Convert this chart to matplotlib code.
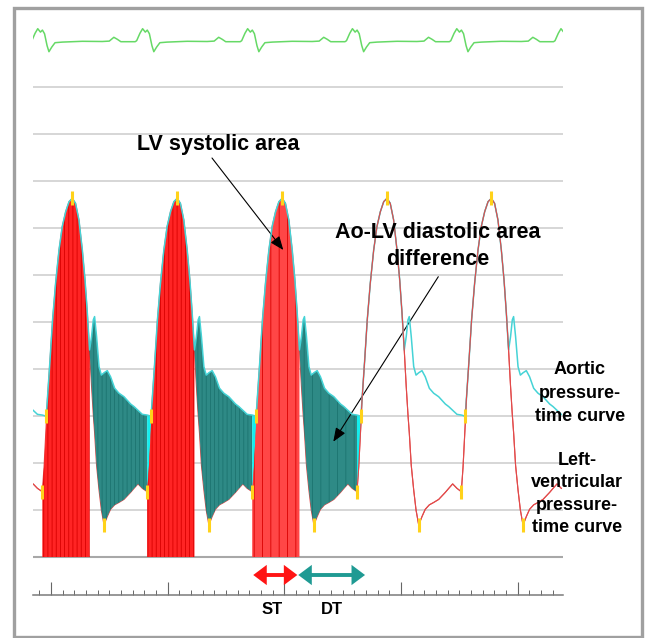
import numpy as np
import matplotlib
matplotlib.use('Agg')
import matplotlib.pyplot as plt
import matplotlib.transforms as mtransforms
from matplotlib.patches import Rectangle, FancyArrowPatch
from matplotlib.ticker import MultipleLocator

plt.rcParams['font.family'] = ['Liberation Sans', 'DejaVu Sans']
plt.rcParams['hatch.linewidth'] = 0.6

# one cardiac cycle: ms after end-diastole, pressures in mmHg
beat_ms = [0, 15, 33, 43, 66, 88, 114, 143, 171, 200, 229, 257, 285, 314, 343,
           366, 386, 405, 422, 437, 448, 465, 486, 506, 529, 557, 585, 620, 657,
           700, 757, 786, 820, 857]
lv_mmhg = [27.8, 38.4, 56.0, 66.8, 83.8, 100.9, 116.5, 130.6, 140.6, 146.9, 151.2,
           152.6, 150.5, 143.4, 130.6, 117.9, 103.7, 88.1, 72.5, 60.5, 53.0, 39.0,
           28.5, 20.0, 13.6, 17.2, 20.3, 22.2, 23.2, 24.5, 27.5, 29.2, 31.1, 29.2]
ao_mmhg = [60.4, 60.2, 59.8, 66.8, 83.8, 100.9, 116.5, 130.6, 140.6, 146.9, 151.2,
           152.6, 150.5, 143.4, 130.6, 117.9, 103.7, 88.1, 93.8, 100.9, 102.3, 93.8,
           81.0, 77.4, 78.4, 79.3, 76.7, 71.8, 69.7, 68.2, 65.1, 64.0, 62.4, 60.7]
# sample indices: aortic valve opening, LV peak, dicrotic notch, LV minimum
i_avo, i_peak, i_notch, i_min = 2, 11, 17, 24

# end-diastole of every beat in s (the first one only shows its tail)
beat_onsets = [-0.973, -0.0745, 0.824, 1.724, 2.622, 3.516]
filled_beats = [1, 2, 3]

# ECG cycle, ms relative to the same end-diastole, mV
ecg_ms = [-103, -90, -62, -39, -16, 1, 19, 41, 57, 81, 109, 171, 343, 514, 574,
          613, 643, 673, 754]
ecg_mv = [0.0, 0.05, 0.42, 0.65, 0.48, 0.58, 0.40, -0.20, -0.50, -0.27, -0.05,
          -0.02, 0.02, 0.01, 0.03, 0.22, 0.12, 0.0, 0.0]
ecg_onsets = beat_onsets + [4.409]

# systolic / diastolic time of the third beat, s
st_span = (1.733, 2.111)
dt_span = (2.119, 2.691)

W, H = 647, 638
PX_S = 116.7            # pixels per second on the time scale
X0 = 51                 # pixel of t = 0


def box(x0, y0, x1, y1):
    # pixel box (y from the top) -> figure fraction rect
    return [x0 / W, 1 - y1 / H, (x1 - x0) / W, (y1 - y0) / H]


def fx(x):
    return x / W


def fy(y):
    return 1 - y / H


xlim = ((33 - X0) / PX_S, (563 - X0) / PX_S)

n = len(beat_ms)
t = np.concatenate([on + np.array(beat_ms) / 1000 for on in beat_onsets])
lv = np.tile(lv_mmhg, len(beat_onsets))
ao = np.tile(ao_mmhg, len(beat_onsets))

fig = plt.figure(figsize=(W / 100, H / 100), dpi=100)

# pressure panel
ax = fig.add_axes(box(33, 85, 563, 560))
ax.set_xlim(xlim)
ax.set_ylim((557 - 560) / 2.35, (557 - 85) / 2.35)
ax.set_yticks(np.arange(0, 201, 20))
ax.tick_params(left=False, labelleft=False, bottom=False, labelbottom=False)
ax.grid(axis='y', color='#cbcbcb', lw=1.1)
ax.set_axisbelow(True)
for s in ax.spines.values():
    s.set_visible(False)
ax.axhline(0, color='#a8a8a8', lw=1.5, zorder=1)

ax.plot(t, lv, color='#e24a4a', lw=0.8, zorder=2)
ax.plot(t, ao, color='#45d3d6', lw=1.1, zorder=4)
lv_open = np.ma.masked_where((t > beat_onsets[1]) & (t < beat_onsets[4]), lv)
ax.plot(t, lv_open, color='#e24a4a', lw=0.8, zorder=5)

red_face = ['#ff2424', '#ff2424', '#ff4646']
red_hatch = ['||||', '||||', '||']
teal_hatch = ['||||', '||||', '||']
for j, k in enumerate(filled_beats):
    s = k * n
    sl = slice(s, s + i_notch + 1)
    ax.fill_between(t[sl], 0, lv[sl], facecolor=red_face[j], edgecolor='#d80000',
                    hatch=red_hatch[j], lw=0, zorder=3)
    sl = slice(s + i_notch, s + n + 1)
    ax.fill_between(t[sl], lv[sl], ao[sl], facecolor='#2e8a86', edgecolor='#1c7470',
                    hatch=teal_hatch[j], lw=0, zorder=3)
    sl = slice(s + n, s + n + i_avo + 1)
    ax.fill_between(t[sl], lv[sl], ao[sl], facecolor='#14eeee', lw=0, zorder=3)

idx_lv = np.array([[b * n, b * n + i_peak, b * n + i_min]
                   for b in range(len(beat_onsets))]).ravel()
idx_ao = np.array([b * n + i_avo for b in range(len(beat_onsets))])
mk = dict(ls='none', marker='|', ms=10, mew=2.2, color='#ffd21a', zorder=6)
ax.plot(t[idx_lv], lv[idx_lv], **mk)
ax.plot(t[idx_ao], ao[idx_ao], **mk)

# ECG strip
ax_e = fig.add_axes(box(33, 20, 563, 62))
t_e = np.concatenate([on + np.array(ecg_ms) / 1000 for on in ecg_onsets])
ax_e.plot(t_e, np.tile(ecg_mv, len(ecg_onsets)), color='#66d966', lw=1.1)
ax_e.set_xlim(xlim)
ax_e.set_ylim(-1.015, 1.085)
ax_e.axis('off')

# time scale
ax_t = fig.add_axes(box(33, 570, 563, 595))
ax_t.set_facecolor('none')
for side in ('top', 'left', 'right'):
    ax_t.spines[side].set_visible(False)
ax_t.spines['bottom'].set_color('#7a7a7a')
ax_t.spines['bottom'].set_linewidth(1.1)
ax_t.set_xlim(xlim)
ax_t.set_yticks([])
ax_t.xaxis.set_major_locator(MultipleLocator(1))
ax_t.xaxis.set_minor_locator(MultipleLocator(0.1))
ax_t.tick_params(axis='x', which='major', direction='in', length=9.6, width=0.8,
                 color='#666666', labelbottom=False)
ax_t.tick_params(axis='x', which='minor', direction='in', length=3.6, width=0.7,
                 color='#666666')

# ST / DT arrows
trans = mtransforms.blended_transform_factory(ax.transData, fig.transFigure)
for span, col in ((st_span, '#ff1414'), (dt_span, '#1f9a93')):
    fig.add_artist(FancyArrowPatch((span[0], fy(575)), (span[1], fy(575)),
                                   transform=trans,
                                   arrowstyle='<|-|>,head_length=0.6,head_width=0.45',
                                   mutation_scale=10, color=col, lw=2.8,
                                   shrinkA=0, shrinkB=0, joinstyle='miter',
                                   capstyle='butt'))

bold = dict(fontweight='bold', color='black', ha='center', va='center')
fig.text(fx(272.5), fy(609), 'ST', fontsize=12, **bold)
fig.text(fx(331.5), fy(609), 'DT', fontsize=12, **bold)

fig.text(fx(218), fy(144), 'LV systolic area', fontsize=15.5, **bold)
fig.text(fx(438), fy(246), 'Ao-LV diastolic area\ndifference', fontsize=15.5,
         linespacing=1.4, **bold)
fig.text(fx(580), fy(393), 'Aortic\npressure-\ntime curve', fontsize=13,
         linespacing=1.5, **bold)
fig.text(fx(577), fy(494), 'Left-\nventricular\npressure-\ntime curve', fontsize=13,
         linespacing=1.42, **bold)

arrow = dict(arrowstyle='-|>,head_length=0.55,head_width=0.22', mutation_scale=15,
             color='black', lw=0.8, shrinkA=0, shrinkB=0)
ax.annotate('', xy=((283.3 - X0) / PX_S, (557 - 250) / 2.35), xycoords='data',
            xytext=(fx(212), fy(158)), textcoords='figure fraction',
            arrowprops=arrow)
ax.annotate('', xy=((333.3 - X0) / PX_S, (557 - 441.7) / 2.35), xycoords='data',
            xytext=(fx(438.3), fy(276.7)), textcoords='figure fraction',
            arrowprops=arrow)

# grey frame
fig.add_artist(Rectangle((fx(13.7), fy(636.5)), fx(642.3) - fx(13.7),
                         fy(7.7) - fy(636.5), transform=fig.transFigure,
                         fill=False, edgecolor='#a0a0a0', lw=2.4))

fig.savefig('out.png', dpi=100)
